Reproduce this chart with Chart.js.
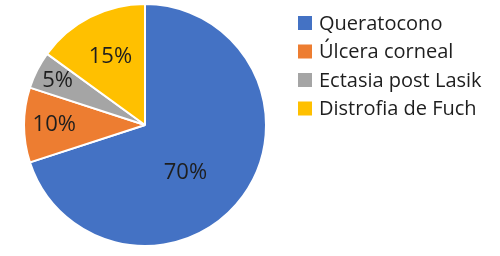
<!DOCTYPE html>
<html lang="es">
<head>
    <meta charset="UTF-8" />
    <title>Distribución de diagnósticos</title>
    <script src="https://cdn.jsdelivr.net/npm/chart.js"></script>
    <style>
        html, body { margin: 0; padding: 0; background: #fff; }
        #wrap { width: 500px; height: 256px; position: relative; }
    </style>
</head>
<body>
<div id="wrap"><canvas id="pieChart"></canvas></div>
<script>
    const categories = ['Queratocono', 'Úlcera corneal', 'Ectasia post Lasik', 'Distrofia de Fuch'];
    const percentages = [70, 10, 5, 15];
    const sliceColors = ['#4472C4', '#ED7D31', '#A5A5A5', '#FFC000'];

    // label placement: fraction of radius and angle nudge (degrees) per slice
    const labelRadius = [0.52, 0.75, 0.81, 0.63];
    const labelNudge = [14, 0, 0, 0];

    const sliceLabels = {
        id: 'sliceLabels',
        afterDatasetsDraw(chart) {
            const ctx = chart.ctx;
            const meta = chart.getDatasetMeta(0);
            ctx.save();
            ctx.font = '22px "Open Sans", sans-serif';
            ctx.fillStyle = '#1e1e1e';
            ctx.textAlign = 'center';
            ctx.textBaseline = 'middle';
            meta.data.forEach((arc, i) => {
                const p = arc.getProps(['x', 'y', 'startAngle', 'endAngle', 'outerRadius'], true);
                const mid = (p.startAngle + p.endAngle) / 2 + labelNudge[i] * Math.PI / 180;
                const r = p.outerRadius * labelRadius[i];
                ctx.fillText(percentages[i] + '%', p.x + Math.cos(mid) * r, p.y + Math.sin(mid) * r);
            });
            ctx.restore();
        }
    };

    const sideLegend = {
        id: 'sideLegend',
        afterDraw(chart) {
            const ctx = chart.ctx;
            ctx.save();
            ctx.font = '20px "Open Sans", sans-serif';
            ctx.textBaseline = 'middle';
            categories.forEach((name, i) => {
                const y = 23 + i * 28.5;
                ctx.fillStyle = sliceColors[i];
                ctx.fillRect(298, y - 7, 14, 14);
                ctx.fillStyle = '#1e1e1e';
                ctx.fillText(name, 319, y + 1);
            });
            ctx.restore();
        }
    };

    new Chart(document.getElementById('pieChart'), {
        type: 'pie',
        data: {
            labels: categories,
            datasets: [{
                data: percentages,
                backgroundColor: sliceColors,
                borderColor: '#ffffff',
                borderWidth: 2
            }]
        },
        options: {
            responsive: true,
            maintainAspectRatio: false,
            animation: false,
            layout: { padding: { left: 23, top: 3, right: 233, bottom: 9 } },
            plugins: {
                legend: { display: false },
                tooltip: { enabled: false }
            }
        },
        plugins: [sliceLabels, sideLegend]
    });
</script>
</body>
</html>
